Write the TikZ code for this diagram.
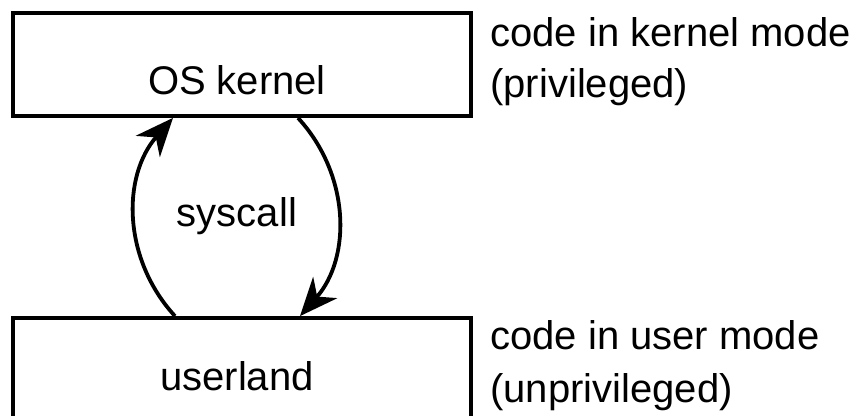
\documentclass[tikz,border=0pt]{standalone}
\usepackage{fontspec}
\setmainfont{Liberation Sans}
\usetikzlibrary{arrows.meta}
\begin{document}
\begin{tikzpicture}[x=0.5pt,y=-0.5pt,
  box/.style={draw, line width=1.9pt, minimum width=229pt, inner sep=0pt},
  lbl/.style={anchor=base, inner sep=0pt, font=\fontsize{20}{24}\selectfont},
  side/.style={anchor=base west, inner sep=0pt, font=\fontsize{20}{24}\selectfont},
  arc/.style={line width=1.9pt, -{Stealth[length=19pt,width=16pt,inset=6pt]}}]
\useasboundingbox (0,0) rectangle (851,416);
\node[box, minimum height=51.5pt] (kernel) at (242,64.5) {};
\node[box, minimum height=56pt] (user) at (242,374) {};
\node[lbl] (kt) at (237,95) {OS kernel};
\node[lbl] (ut) at (237,391) {userland};
\node[lbl] (sc) at (237,227) {syscall};
\node[side] (k1) at (490,47) {code in kernel mode};
\node[side] (k2) at (490,98) {(privileged)};
\node[side] (u1) at (490,350) {code in user mode};
\node[side] (u2) at (490,402) {(unprivileged)};
\coordinate (ua) at (user.north west -| 175,0);
\coordinate (ka) at (kernel.south west -| 173,0);
\coordinate (kb) at (kernel.south west -| 298,0);
\coordinate (ub) at (user.north west -| 300,0);
\draw[arc] (ua) to[bend left=42] (ka);
\draw[arc] (kb) to[bend left=42] (ub);
\end{tikzpicture}
\end{document}
